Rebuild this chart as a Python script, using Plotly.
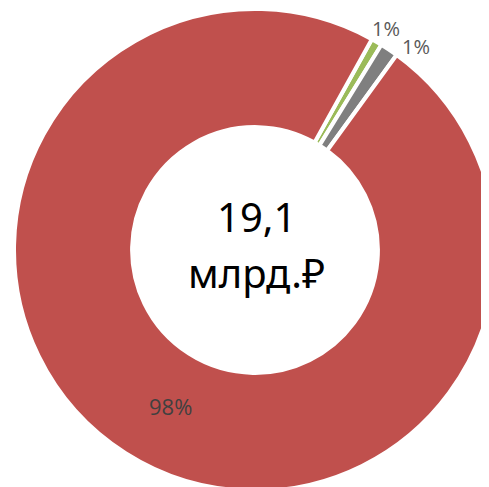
import plotly.graph_objects as go

labels = ["Прочее 1", "Прочее 2", "Основное"]
values = [0.14, 0.23, 18.73]
colors = ["#9BBB59", "#7F7F7F", "#C0504D"]
center_line1 = "19,1"
center_line2 = "млрд.₽"

total = sum(values)
pct_text = [f"{round(v / total * 100)}%" for v in values]

BODY = 8
L, T = 6, 1
D = 482
W, H = L + D, T + D

def px(x):
    return (x - BODY - L) / D

def py(y):
    return 1 - (y - BODY - T) / D

fig = go.Figure(go.Pie(
    labels=labels, values=values, sort=False, direction="clockwise",
    rotation=29, hole=0.51,
    marker=dict(colors=colors, line=dict(color="white", width=4)),
    textinfo="none",
    showlegend=False, hoverinfo="skip",
))

label_pos = [(386, 29, 20, "#595959"), (416, 47, 20, "#595959"), (170, 406, 22, "#404040")]
annotations = []
for t, (x, y, s, c) in zip(pct_text, label_pos):
    annotations.append(dict(text=t, x=px(x), y=py(y), xref="paper", yref="paper",
                            showarrow=False, xanchor="center", yanchor="middle",
                            font=dict(family="Open Sans, Noto Sans", size=s, color=c)))
annotations += [
    dict(text=center_line1, x=px(256), y=py(216), xref="paper", yref="paper",
         showarrow=False, font=dict(family="Noto Sans, DejaVu Sans", size=40, color="black")),
    dict(text=center_line2, x=px(256), y=py(272), xref="paper", yref="paper",
         showarrow=False, font=dict(family="Noto Sans, DejaVu Sans", size=40, color="black")),
]

fig.update_layout(
    width=W, height=H,
    margin=dict(l=L, t=T, r=0, b=0),
    paper_bgcolor="white", plot_bgcolor="white",
    annotations=annotations,
)
fig.write_html("out.html")
